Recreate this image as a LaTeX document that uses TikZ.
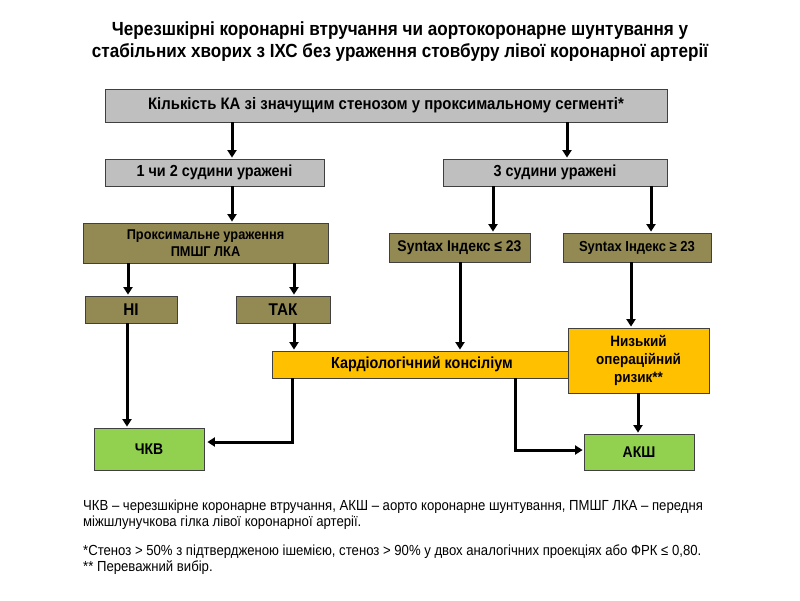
\documentclass[tikz,border=0pt]{standalone}
\usepackage{fontspec}
\setmainfont{Liberation Sans}
\newfontfamily\nar[FakeStretch=0.9]{Liberation Sans}
\usetikzlibrary{arrows.meta}
\definecolor{boxgray}{HTML}{BFBFBF}
\definecolor{olive}{HTML}{938953}
\definecolor{amber}{HTML}{FFC000}
\definecolor{lgreen}{HTML}{92D050}
\definecolor{edge}{HTML}{404040}
\newcommand{\fsz}[1]{\nar\bfseries\fontsize{#1}{#1}\selectfont}
\tikzset{
  box/.style={draw=edge, line width=0.8pt, inner sep=0pt, font=\fsz{16}, align=center},
  graybox/.style={box, fill=boxgray},
  olivebox/.style={box, fill=olive},
  amberbox/.style={box, fill=amber},
  greenbox/.style={box, fill=lgreen},
  arr/.style={line width=3pt, -{Triangle[length=7.5pt,width=9pt]}, shorten >=1pt},
}
\begin{document}
\begin{tikzpicture}[x=1pt,y=-1pt]
\useasboundingbox (0,0) rectangle (800,600);
% title
\node[font=\nar\bfseries\fontsize{19}{22}\selectfont, align=center] (title) at (400,42)
  {Черезшкірні коронарні втручання чи аортокоронарне шунтування у\\стабільних хворих з ІХС без ураження стовбуру лівої коронарної артерії};
% boxes
\node[graybox, minimum width=562pt, minimum height=33pt, font=\fsz{16.6}] (top) at (386,105.5) {Кількість КА зі значущим стенозом у проксимальному сегменті*};
\node[graybox, minimum width=219pt, minimum height=27pt] (one) at (214.5,172.5) {1 чи 2 судини уражені};
\node[graybox, minimum width=224pt, minimum height=27pt] (three) at (555,172.5) {3 судини уражені};
\node[olivebox, minimum width=245pt, minimum height=40pt, font=\nar\bfseries\fontsize{14.2}{17}\selectfont] (prox) at (205.5,243) {Проксимальне ураження\\ПМШГ ЛКА};
\node[olivebox, minimum width=141pt, minimum height=29pt, font=\fsz{15.5}] (sle) at (459.5,247.5) {Syntax Індекс ≤ 23};
\node[olivebox, minimum width=148pt, minimum height=29pt, font=\fsz{14.5}] (sge) at (637,247.5) {Syntax Індекс ≥ 23};
\node[olivebox, minimum width=92pt, minimum height=27pt, font=\fsz{17}] (ni) at (131,309.5) {НІ};
\node[olivebox, minimum width=94pt, minimum height=27pt, font=\fsz{17}] (tak) at (283,309.5) {ТАК};
\node[amberbox, minimum width=300pt, minimum height=27pt] (kons) at (422,364.5) {Кардіологічний консіліум};
\node[amberbox, minimum width=141pt, minimum height=65pt, font=\nar\bfseries\fontsize{15}{18}\selectfont] (risk) at (638.5,360.5) {Низький\\операційний\\ризик**};
\node[greenbox, minimum width=110pt, minimum height=42pt, font=\fsz{15.5}] (pci) at (149,449) {ЧКВ};
\node[greenbox, minimum width=110pt, minimum height=36pt, font=\fsz{15.5}] (cabg) at (639,452) {АКШ};
% arrows
\draw[arr] (top.south -| 232,0) coordinate (a1) -- (a1 |- one.north);
\draw[arr] (top.south -| 567,0) coordinate (a2) -- (a2 |- three.north);
\draw[arr] (one.south -| 232,0) coordinate (a3) -- (a3 |- prox.north);
\draw[arr] (three.south -| 493,0) coordinate (a4) -- (a4 |- sle.north);
\draw[arr] (three.south -| 651,0) coordinate (a5) -- (a5 |- sge.north);
\draw[arr] (prox.south -| 128,0) coordinate (a6) -- (a6 |- ni.north);
\draw[arr] (prox.south -| 294,0) coordinate (a7) -- (a7 |- tak.north);
\draw[arr] (tak.south -| 294,0) coordinate (a8) -- (a8 |- kons.north);
\draw[arr] (sle.south -| 460,0) coordinate (a9) -- (a9 |- kons.north);
\draw[arr] (sge.south -| 631,0) coordinate (a10) -- (a10 |- risk.north);
\draw[arr] (ni.south -| 127,0) coordinate (a11) -- (a11 |- pci.north);
\draw[arr, shorten >=3pt] (kons.south -| 292,0) coordinate (a12) |- (pci.east |- 0,442);
\draw[arr] (kons.south -| 515,0) coordinate (a13) |- (cabg.west |- 0,450);
\draw[arr] (risk.south -| 638,0) coordinate (a14) -- (a14 |- cabg.north);
% footnotes
\node[anchor=north west, align=left, font=\nar\fontsize{14.6}{16}\selectfont, inner sep=0pt] (fn1) at (83,500)
  {ЧКВ – черезшкірне коронарне втручання, АКШ – аорто коронарне шунтування, ПМШГ ЛКА – передня\\міжшлунучкова гілка лівої коронарної артерії.};
\node[anchor=north west, align=left, font=\nar\fontsize{14.6}{16}\selectfont, inner sep=0pt] (fn2) at (83,545)
  {*Стеноз > 50\% з підтвердженою ішемією, стеноз > 90\% у двох аналогічних проекціях або ФРК ≤ 0,80.\\** Переважний вибір.};
\end{tikzpicture}
\end{document}
